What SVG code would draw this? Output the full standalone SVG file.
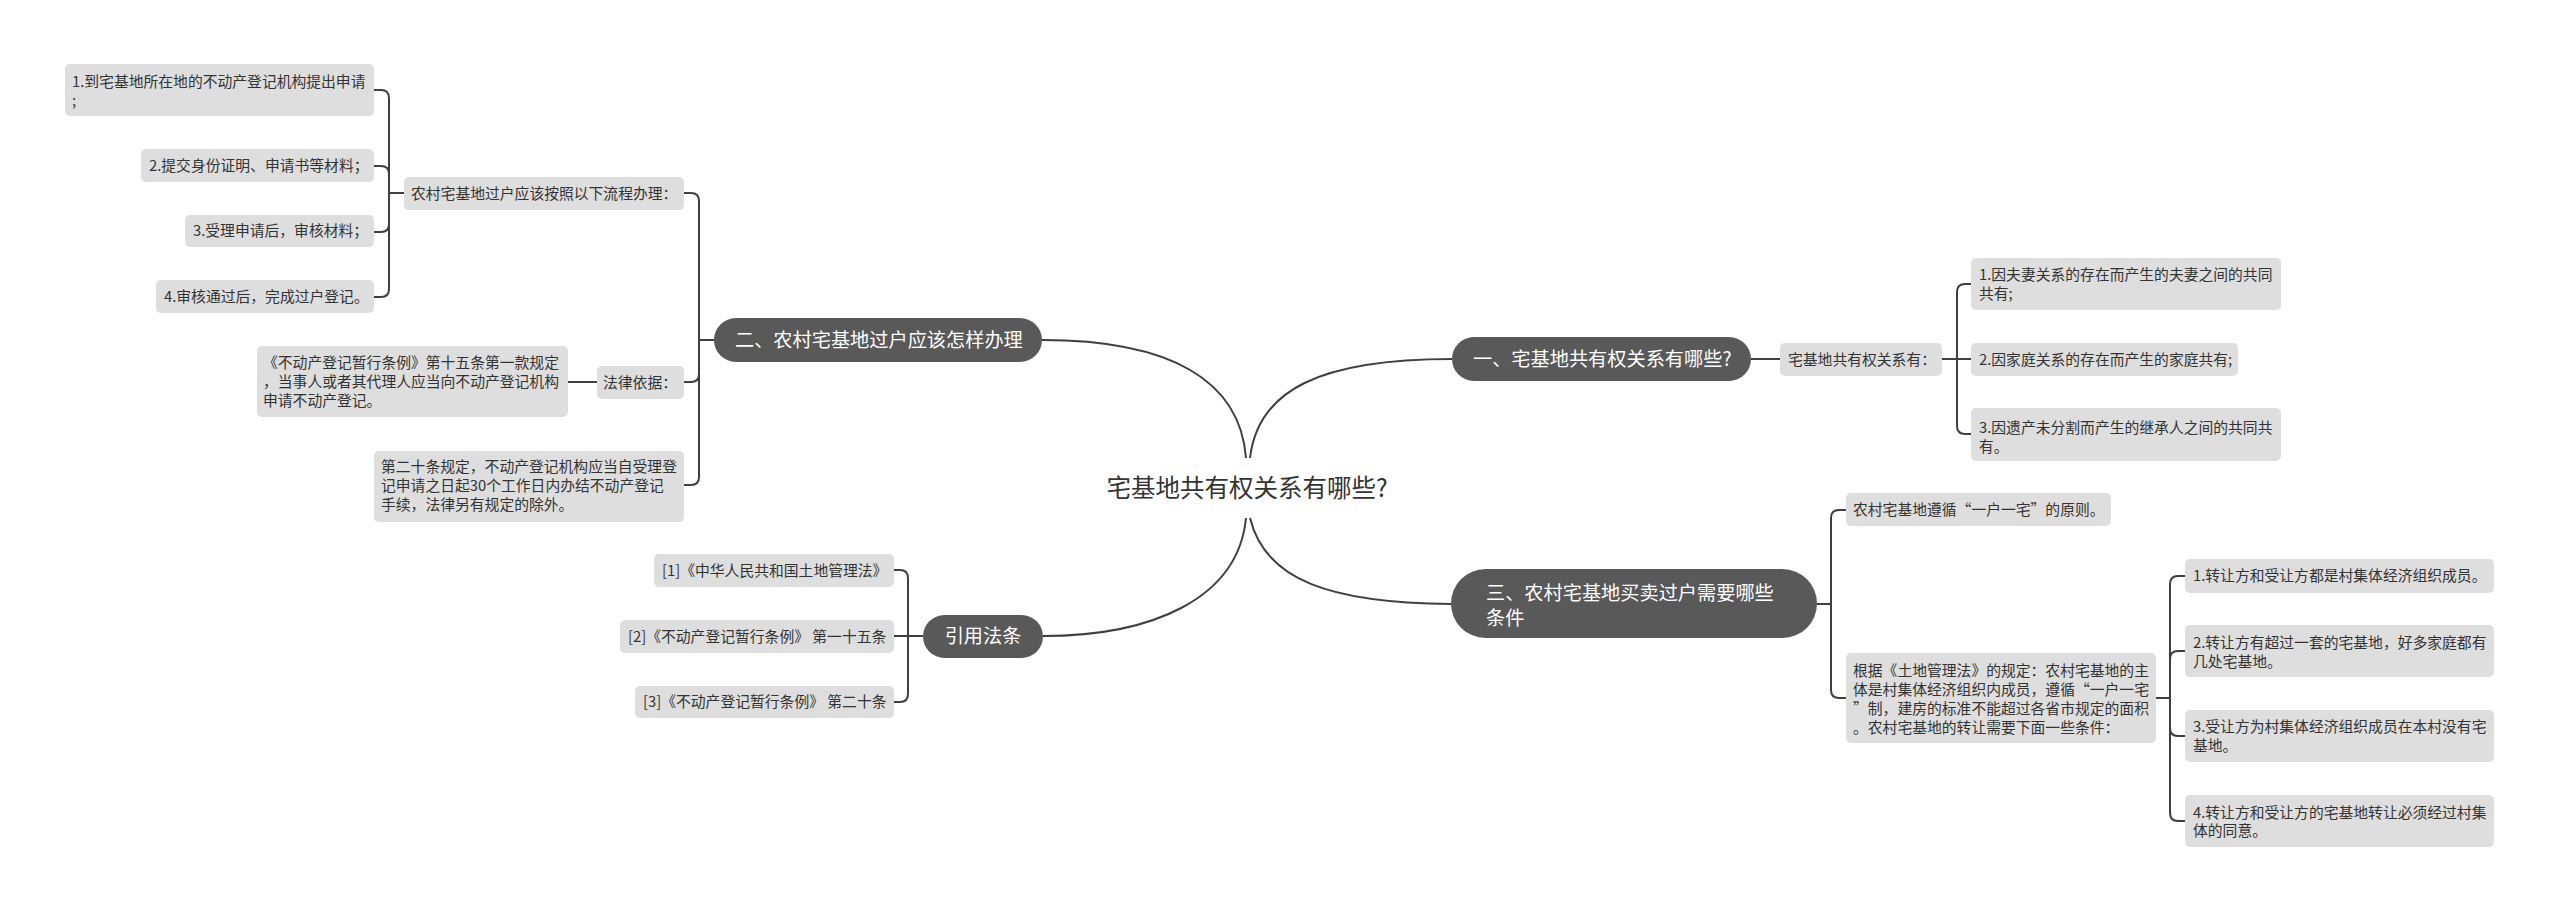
<svg xmlns="http://www.w3.org/2000/svg" width="2560" height="911" viewBox="0 0 2560 911">
<style>
.leaf rect{fill:#dedede;}
.leaf text{font-family:"Noto Sans CJK SC","Liberation Sans",sans-serif;font-size:14.8px;fill:#333333;}
.branch rect{fill:#595959;}
.branch text{font-family:"Noto Sans CJK SC","Liberation Sans",sans-serif;font-size:19.2px;fill:#ffffff;}
.root text{font-family:"Noto Sans CJK SC","Liberation Sans",sans-serif;font-size:24.5px;fill:#333333;}
#connectors path{fill:none;stroke:#3f3f3f;stroke-width:2;}
</style>
<rect width="2560" height="911" fill="#ffffff"/>
<g id="connectors">
<path d="M1246,458 C1240,380 1170,340 1042,340"/>
<path d="M1250,458 C1258,390 1320,359 1452,359"/>
<path d="M1246,518 C1238,600 1150,636 1043,636"/>
<path d="M1250,518 C1265,580 1330,603 1451,604"/>
<path d="M714,340 H699 V201 Q699,193 691,193 H684"/>
<path d="M714,340 H699 V374 Q699,382 691,382 H684"/>
<path d="M714,340 H699 V477 Q699,485 691,485 H684"/>
<path d="M404,193 H389 V98 Q389,90 381,90 H374"/>
<path d="M404,193 H389 V174 Q389,166 381,166 H374"/>
<path d="M404,193 H389 V224 Q389,232 381,232 H374"/>
<path d="M404,193 H389 V289 Q389,297 381,297 H374"/>
<path d="M597,382 H568"/>
<path d="M923,636 H908 V578 Q908,570 900,570 H894"/>
<path d="M923,636 H894"/>
<path d="M923,636 H908 V694 Q908,702 900,702 H894"/>
<path d="M1751,359 H1780"/>
<path d="M1942,359 H1957 V292 Q1957,284 1965,284 H1971"/>
<path d="M1942,359 H1971"/>
<path d="M1942,359 H1957 V426 Q1957,434 1965,434 H1971"/>
<path d="M1817,604 H1831 V518 Q1831,510 1839,510 H1846"/>
<path d="M1817,604 H1831 V690 Q1831,698 1839,698 H1846"/>
<path d="M2156,698 H2170 V584 Q2170,576 2178,576 H2185"/>
<path d="M2156,698 H2170 V659 Q2170,651 2178,651 H2185"/>
<path d="M2156,698 H2170 V728 Q2170,736 2178,736 H2185"/>
<path d="M2156,698 H2170 V813 Q2170,821 2178,821 H2185"/>
</g>
<g id="root" class="root"><text x="1247" y="497" text-anchor="middle">宅基地共有权关系有哪些?</text></g>
<g id="b2" class="branch"><rect x="714" y="318" width="328" height="44" rx="22"/><text x="735" y="347">二、农村宅基地过户应该怎样办理</text></g>
<g id="b2-flow" class="leaf"><rect x="404" y="177" width="280" height="33" rx="5"/><text x="411" y="198.5">农村宅基地过户应该按照以下流程办理：</text></g>
<g id="b2-flow-1" class="leaf"><rect x="65" y="64" width="309" height="52" rx="5"/><text x="72" y="87">1.到宅基地所在地的不动产登记机构提出申请</text><text x="72" y="106">;</text></g>
<g id="b2-flow-2" class="leaf"><rect x="141" y="149" width="233" height="33" rx="5"/><text x="149" y="171">2.提交身份证明、申请书等材料；</text></g>
<g id="b2-flow-3" class="leaf"><rect x="185" y="215" width="189" height="32" rx="5"/><text x="193" y="236">3.受理申请后，审核材料；</text></g>
<g id="b2-flow-4" class="leaf"><rect x="156" y="280" width="218" height="33" rx="5"/><text x="164" y="301.5">4.审核通过后，完成过户登记。</text></g>
<g id="b2-law" class="leaf"><rect x="597" y="366" width="87" height="33" rx="5"/><text x="603" y="387.5">法律依据：</text></g>
<g id="b2-law-1" class="leaf"><rect x="257" y="346" width="311" height="71" rx="5"/><text x="263" y="368">《不动产登记暂行条例》第十五条第一款规定</text><text x="263" y="387">，当事人或者其代理人应当向不动产登记机构</text><text x="263" y="406">申请不动产登记。</text></g>
<g id="b2-art20" class="leaf"><rect x="374" y="451" width="310" height="71" rx="5"/><text x="381" y="472">第二十条规定，不动产登记机构应当自受理登</text><text x="381" y="491">记申请之日起30个工作日内办结不动产登记</text><text x="381" y="510">手续，法律另有规定的除外。</text></g>
<g id="b4" class="branch"><rect x="923" y="615" width="120" height="43" rx="21.5"/><text x="983" y="643" text-anchor="middle">引用法条</text></g>
<g id="b4-1" class="leaf"><rect x="654" y="554" width="240" height="33" rx="5"/><text x="662" y="575.5">[1]《中华人民共和国土地管理法》</text></g>
<g id="b4-2" class="leaf"><rect x="620" y="620" width="274" height="33" rx="5"/><text x="628" y="641.5">[2]《不动产登记暂行条例》 第一十五条</text></g>
<g id="b4-3" class="leaf"><rect x="635" y="686" width="259" height="32" rx="5"/><text x="643" y="707">[3]《不动产登记暂行条例》 第二十条</text></g>
<g id="b1" class="branch"><rect x="1452" y="337" width="299" height="44" rx="22"/><text x="1473" y="366">一、宅基地共有权关系有哪些?</text></g>
<g id="b1-sub" class="leaf"><rect x="1780" y="343" width="162" height="33" rx="5"/><text x="1788" y="364.5">宅基地共有权关系有：</text></g>
<g id="b1-sub-1" class="leaf"><rect x="1971" y="258" width="310" height="52" rx="5"/><text x="1979" y="280">1.因夫妻关系的存在而产生的夫妻之间的共同</text><text x="1979" y="299">共有;</text></g>
<g id="b1-sub-2" class="leaf"><rect x="1971" y="343" width="267" height="33" rx="5"/><text x="1979" y="364.5">2.因家庭关系的存在而产生的家庭共有;</text></g>
<g id="b1-sub-3" class="leaf"><rect x="1971" y="408" width="310" height="53" rx="5"/><text x="1979" y="433">3.因遗产未分割而产生的继承人之间的共同共</text><text x="1979" y="452">有。</text></g>
<g id="b3" class="branch"><rect x="1451" y="569" width="366" height="69" rx="34.5"/><text x="1486" y="600">三、农村宅基地买卖过户需要哪些</text><text x="1486" y="625">条件</text></g>
<g id="b3-1" class="leaf"><rect x="1846" y="493" width="265" height="33" rx="5"/><text x="1853" y="514.5">农村宅基地遵循“一户一宅”的原则。</text></g>
<g id="b3-2" class="leaf"><rect x="1846" y="653" width="310" height="90" rx="5"/><text x="1853" y="676">根据《土地管理法》的规定：农村宅基地的主</text><text x="1853" y="695">体是村集体经济组织内成员，遵循“一户一宅</text><text x="1853" y="714">”制，建房的标准不能超过各省市规定的面积</text><text x="1853" y="733">。农村宅基地的转让需要下面一些条件：</text></g>
<g id="b3-2-1" class="leaf"><rect x="2185" y="559" width="309" height="34" rx="5"/><text x="2193" y="581">1.转让方和受让方都是村集体经济组织成员。</text></g>
<g id="b3-2-2" class="leaf"><rect x="2185" y="625" width="309" height="52" rx="5"/><text x="2193" y="648">2.转让方有超过一套的宅基地，好多家庭都有</text><text x="2193" y="667">几处宅基地。</text></g>
<g id="b3-2-3" class="leaf"><rect x="2185" y="710" width="309" height="52" rx="5"/><text x="2193" y="732">3.受让方为村集体经济组织成员在本村没有宅</text><text x="2193" y="751">基地。</text></g>
<g id="b3-2-4" class="leaf"><rect x="2185" y="795" width="309" height="52" rx="5"/><text x="2193" y="818">4.转让方和受让方的宅基地转让必须经过村集</text><text x="2193" y="836">体的同意。</text></g>
</svg>
